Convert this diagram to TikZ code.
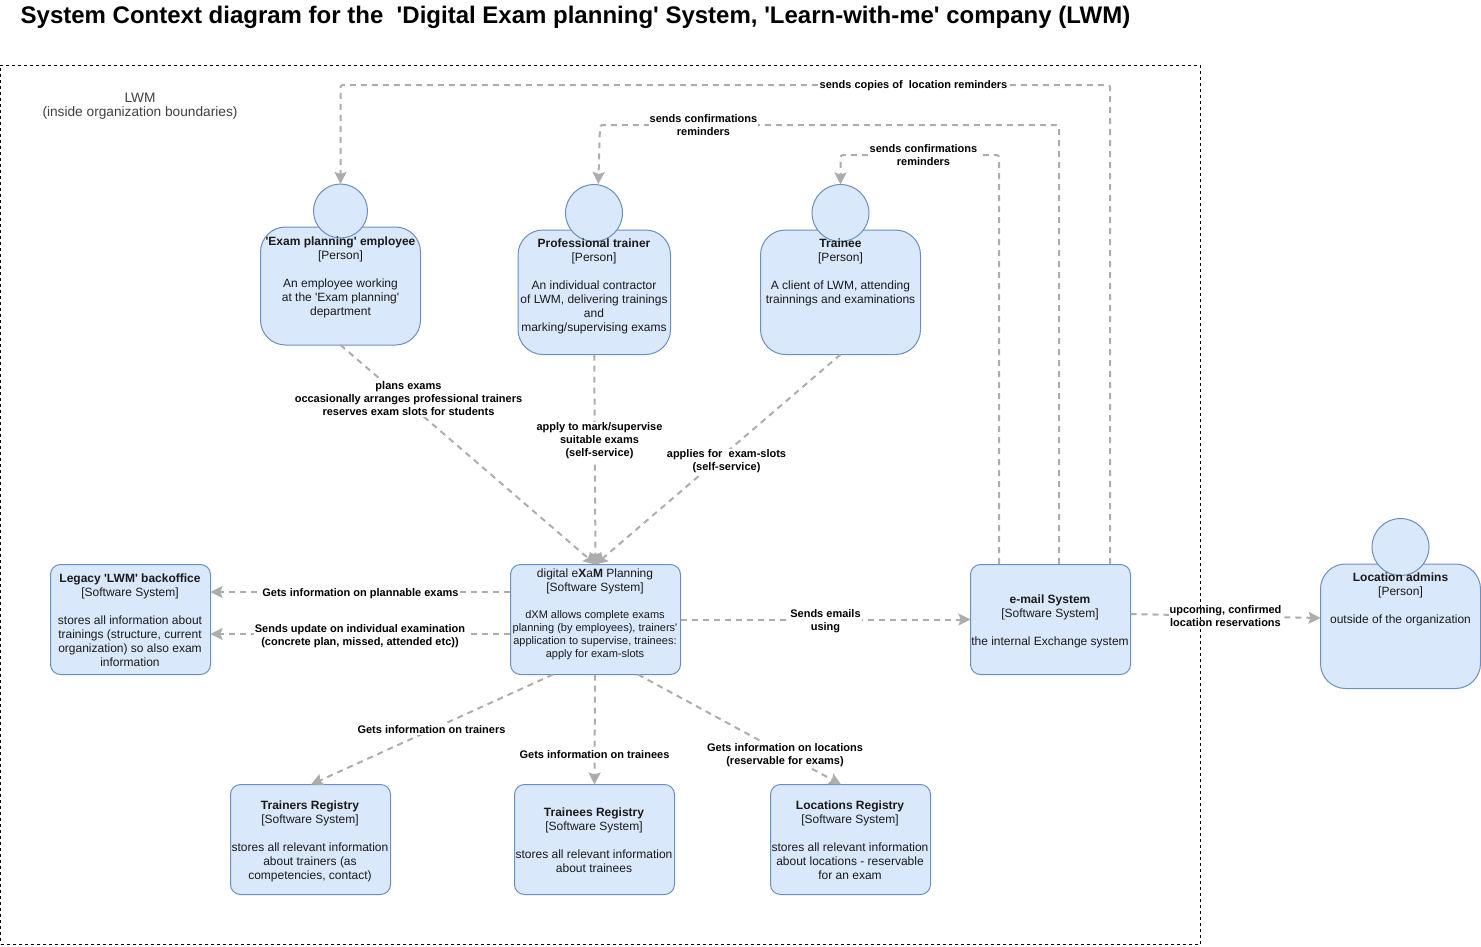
\documentclass[tikz,border=0pt]{standalone}
\usepackage{fontspec}
\setmainfont{Liberation Sans}[Ligatures=TeXOff]
\usetikzlibrary{arrows.meta}
\definecolor{boxfill}{HTML}{DAE8FC}
\definecolor{boxline}{HTML}{6C8EBF}
\definecolor{txtcol}{HTML}{1A1A1A}
\definecolor{linkcol}{HTML}{ADADAD}
\newcommand{\pxbox}[7]{% name, x0,y0,x1,y1, style
  \node[#6, minimum width=#4-#2, minimum height=#5-#3, #7] (#1) at ({(#2+#4)/2},{(#3+#5)/2}) {};}
\tikzset{
  x=1pt,y=-1pt,
  softbox/.style={draw=boxline,fill=boxfill,line width=1pt,rounded corners=10,inner sep=0pt,outer sep=0pt},
  personbox/.style={draw=boxline,fill=boxfill,line width=1pt,rounded corners=25,inner sep=0pt,outer sep=0pt},
  headshape/.style={circle,draw=boxline,fill=boxfill,line width=1pt,inner sep=0pt,outer sep=0pt},
  body/.style={align=center,text=txtcol,inner sep=0pt,font=\fontsize{12}{14}\selectfont},
  small/.style={align=center,text=txtcol,inner sep=0pt,font=\fontsize{11}{13}\selectfont},
  link/.style={draw=linkcol,line width=2pt,dash pattern=on 6pt off 5pt,-{Stealth[length=12pt,width=12pt,inset=2pt]}},
  lab/.style={fill=white,align=center,inner sep=1pt,text=black,font=\fontsize{11}{13}\selectfont\bfseries},
}
\begin{document}
\begin{tikzpicture}
\useasboundingbox (0,0) rectangle (1481,946);
\node[anchor=west,inner sep=0pt,font=\fontsize{24}{28}\selectfont\bfseries] (title) at (20.5,17.5) {System Context diagram for the\ \ 'Digital Exam planning' System, 'Learn-with-me' company (LWM)};
\node[body,text=black!75,font=\fontsize{13.7}{14}\selectfont] (lwmtext) at (140,106.5) {LWM\\(inside organization boundaries)};

\pxbox{emp}{260.5}{227}{420.5}{345}{personbox}{}
\node[headshape,minimum size=54pt] (emphead) at (340.5,211) {};
\pxbox{pro}{518}{230}{670.5}{354.5}{personbox}{}
\node[headshape,minimum size=57pt] (prohead) at (594,213) {};
\pxbox{tee}{760.5}{230}{920.5}{354.5}{personbox}{}
\node[headshape,minimum size=57pt] (teehead) at (840.5,213) {};
\pxbox{loc}{1320.5}{564}{1480.5}{688.5}{personbox}{}
\node[headshape,minimum size=57pt] (lochead) at (1400.5,547) {};
\pxbox{leg}{50.5}{564.5}{210.5}{674.5}{softbox}{}
\pxbox{dxm}{510.5}{564.5}{680.5}{674.5}{softbox}{}
\pxbox{mail}{970.5}{564.5}{1130.5}{674.5}{softbox}{}
\pxbox{trs}{230.5}{784.5}{390.5}{894.5}{softbox}{}
\pxbox{tes}{514.5}{784.5}{674.5}{894.5}{softbox}{}
\pxbox{lcs}{770.5}{784.5}{930.5}{894.5}{softbox}{}

\node[body,anchor=north] (emptext) at (340.5,236.5) {\textbf{'Exam planning' employee}\\{}[Person]\\[14pt]An employee working\\at the 'Exam planning'\\department};
\node[body,anchor=north] (protext) at (594,238.5) {\textbf{Professional trainer}\\{}[Person]\\[14pt]An individual contractor\\of LWM, delivering trainings\\and\\marking/supervising exams};
\node[body,anchor=north] (teetext) at (840.5,238.5) {\textbf{Trainee}\\{}[Person]\\[14pt]A client of LWM, attending\\trainnings and examinations};
\node[body,anchor=north] (loctext) at (1400.5,572.5) {\textbf{Location admins}\\{}[Person]\\[14pt]outside of the organization};
\node[body,anchor=north] (legtext) at (130,573.5) {\textbf{Legacy 'LWM' backoffice}\\{}[Software System]\\[14pt]stores all information about\\trainings (structure, current\\organization) so also exam\\information};
\node[body,anchor=north] (dxmtext) at (595,568.5) {digital e\textbf{X}a\textbf{M} Planning\\{}[Software System]};
\node[small,anchor=north] (dxmdesc) at (595,610.5) {dXM allows complete exams\\planning (by employees), trainers'\\application to supervise, trainees:\\apply for exam-slots};
\node[body,anchor=north] (mailtext) at (1050,594.5) {\textbf{e-mail System}\\{}[Software System]\\[14pt]the internal Exchange system};
\node[body,anchor=north] (trstext) at (310,800.5) {\textbf{Trainers Registry}\\{}[Software System]\\[14pt]stores all relevant information\\about trainers (as\\competencies, contact)};
\node[body,anchor=north] (testext) at (594,807.5) {\textbf{Trainees Registry}\\{}[Software System]\\[14pt]stores all relevant information\\about trainees};
\node[body,anchor=north] (lcstext) at (850,800.5) {\textbf{Locations Registry}\\{}[Software System]\\[14pt]stores all relevant information\\about locations - reservable\\for an exam};

% ports
\coordinate (m1) at (999,564);
\coordinate (m2) at (1059,564);
\coordinate (m3) at (1110,564);
\coordinate (d1) at (510,592);
\coordinate (l1) at (210.5,592);
\coordinate (d2) at (510,634);
\coordinate (l2) at (210.5,634);
\coordinate (d3) at (680.5,619.5);
\coordinate (m4) at (970.5,619.5);
\coordinate (m5) at (1130.5,614);
\coordinate (o1) at (1320.5,618);
\coordinate (d4) at (553,674.5);
\coordinate (t1) at (311,784.5);
\coordinate (d5) at (595,674.5);
\coordinate (d6) at (638,674.5);
\coordinate (t3) at (841,784.5);
\coordinate (ph) at (598.3,184);

\draw[link] (emp.south) -- (dxm.north);
\draw[link] (pro.south) -- (dxm.north);
\draw[link] (tee.south) -- (dxm.north);
\draw[link,rounded corners=2.5] (m3) -- (1110,85) -- (340.5,85) -- (emphead.north);
\draw[link,rounded corners=2.5] (m2) -- (1059,125) -- (600,125) -- (ph);
\draw[link,rounded corners=2.5] (m1) -- (999,155) -- (840.5,155) -- (teehead.north);
\draw[link] (d1) -- (l1);
\draw[link] (d2) -- (l2);
\draw[link] (d3) -- (m4);
\draw[link] (m5) -- (o1);
\draw[link] (d4) -- (t1);
\draw[link] (d5) -- (tes.north);
\draw[link] (d6) -- (t3);

\node[lab] (labplan) at (408.5,399) {plans exams\\occasionally arranges professional trainers\\reserves exam slots for students};
\node[lab] (labapply) at (599.5,440.7) {apply to mark/supervise\\suitable exams\\(self-service)};
\node[lab] (labslot) at (726.5,461.2) {applies for\ \ exam-slots\\(self-service)};
\node[lab] (labcopy) at (913.5,85.7) {sends copies of\ \ location reminders};
\node[lab] (labconf) at (703.5,125) {sends confirmations\\reminders};
\node[lab] (labtee) at (923.5,155) {sends confirmations\\reminders};
\node[lab] (labplanx) at (360.5,593.2) {Gets information on plannable exams};
\node[lab] (labupd) at (360,635.7) {Sends update on individual examination\\(concrete plan, missed, attended etc))};
\node[lab] (labmail) at (825.5,620.7) {Sends emails\\using};
\node[lab] (labres) at (1225.5,616) {upcoming, confirmed\\location reservations};
\node[lab] (labtrs) at (431.5,729.5) {Gets information on trainers};
\node[lab] (labtes) at (594.5,754.5) {Gets information on trainees};
\node[lab] (lablcs) at (785,754.7) {Gets information on locations\\(reservable for exams)};

\node[draw=black,dashed,line width=.8pt,minimum width=1199.5pt,minimum height=879.5pt,inner sep=0pt,outer sep=0pt] (lwm) at (600.5,504.7) {};
\end{tikzpicture}
\end{document}
